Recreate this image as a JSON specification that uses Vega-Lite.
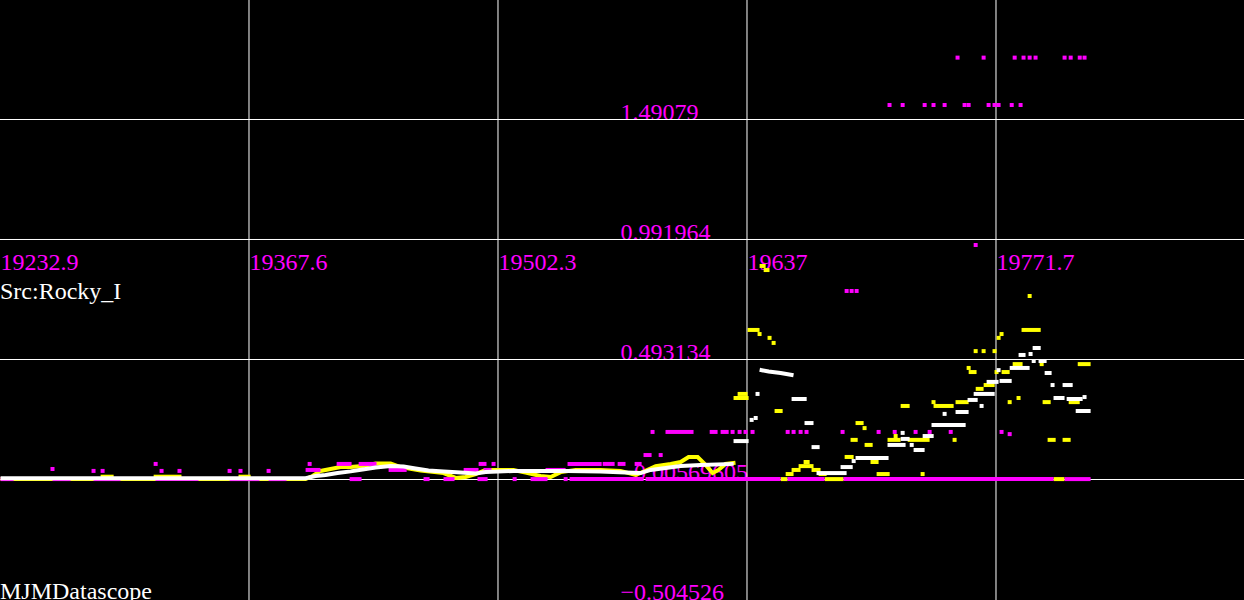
{
"$schema":"https://vega.github.io/schema/vega-lite/v6.json",
"width":1244,"height":600,"autosize":{"type":"none"},"padding":0,
"background":"#000000",
"config":{"view":{"stroke":null}},
"resolve":{"axis":{"x":"independent","y":"independent"}},
"datasets":{
"seg":[
{"s":"w","g":1,"x":19234.3,"y":0},{"s":"w","g":1,"x":19398.2,"y":0},{"s":"w","g":1,"x":19403.6,"y":0.009},{"s":"w","g":1,"x":19409.0,"y":0.013},{"s":"w","g":1,"x":19415.5,"y":0.021},{"s":"w","g":1,"x":19422.6,"y":0.028},{"s":"w","g":1,"x":19429.0,"y":0.036},{"s":"w","g":1,"x":19436.1,"y":0.044},{"s":"w","g":1,"x":19444.2,"y":0.050},{"s":"w","g":1,"x":19451.2,"y":0.048},{"s":"w","g":1,"x":19457.7,"y":0.040},{"s":"w","g":1,"x":19464.7,"y":0.032},{"s":"w","g":1,"x":19472.9,"y":0.028},{"s":"w","g":1,"x":19482.1,"y":0.023},{"s":"w","g":1,"x":19490.2,"y":0.019},{"s":"w","g":1,"x":19495.6,"y":0.025},{"s":"w","g":1,"x":19510.7,"y":0.030},{"s":"w","g":1,"x":19539.9,"y":0.030},{"s":"w","g":1,"x":19557.8,"y":0.028},{"s":"w","g":1,"x":19571.3,"y":0.023},{"s":"w","g":1,"x":19579.4,"y":0.021},{"s":"w","g":1,"x":19584.9,"y":0.034},{"s":"w","g":1,"x":19593.0,"y":0.042},{"s":"w","g":1,"x":19601.1,"y":0.050},{"s":"w","g":1,"x":19611.9,"y":0.055},{"s":"w","g":1,"x":19628.7,"y":0.059},
{"s":"w","g":2,"x":19630.8,"y":0.154},{"s":"w","g":2,"x":19636.8,"y":0.154},
{"s":"w","g":3,"x":19644.9,"y":0.449},{"s":"w","g":3,"x":19648.7,"y":0.443},{"s":"w","g":3,"x":19655.2,"y":0.437},{"s":"w","g":3,"x":19661.1,"y":0.429},
{"s":"w","g":4,"x":19662.2,"y":0.329},{"s":"w","g":4,"x":19668.2,"y":0.329},
{"s":"w","g":5,"x":19669.2,"y":0.229},{"s":"w","g":5,"x":19671.9,"y":0.229},
{"s":"w","g":6,"x":19673.0,"y":0.129},{"s":"w","g":6,"x":19675.2,"y":0.129},
{"s":"w","g":7,"x":19675.7,"y":0.021},{"s":"w","g":7,"x":19689.8,"y":0.021},
{"s":"w","g":8,"x":19688.7,"y":0.046},{"s":"w","g":8,"x":19693.1,"y":0.046},
{"s":"w","g":9,"x":19696.8,"y":0.084},{"s":"w","g":9,"x":19712.5,"y":0.084},
{"s":"w","g":10,"x":19714.1,"y":0.138},{"s":"w","g":10,"x":19721.7,"y":0.138},
{"s":"w","g":11,"x":19721.2,"y":0.163},{"s":"w","g":11,"x":19723.9,"y":0.163},
{"s":"w","g":12,"x":19728.2,"y":0.117},{"s":"w","g":12,"x":19732.0,"y":0.117},
{"s":"w","g":13,"x":19733.1,"y":0.175},{"s":"w","g":13,"x":19736.9,"y":0.175},
{"s":"w","g":14,"x":19737.9,"y":0.221},{"s":"w","g":14,"x":19754.2,"y":0.221},
{"s":"w","g":15,"x":19750.9,"y":0.275},{"s":"w","g":15,"x":19755.8,"y":0.275},
{"s":"w","g":16,"x":19757.4,"y":0.325},{"s":"w","g":16,"x":19760.7,"y":0.325},
{"s":"w","g":17,"x":19760.7,"y":0.350},{"s":"w","g":17,"x":19769.9,"y":0.350},
{"s":"w","g":18,"x":19767.7,"y":0.400},{"s":"w","g":18,"x":19772.0,"y":0.400},
{"s":"w","g":19,"x":19774.7,"y":0.404},{"s":"w","g":19,"x":19779.1,"y":0.404},
{"s":"w","g":20,"x":19780.2,"y":0.458},{"s":"w","g":20,"x":19788.8,"y":0.458},
{"s":"w","g":21,"x":19785.0,"y":0.512},{"s":"w","g":21,"x":19786.6,"y":0.512},
{"s":"w","g":22,"x":19792.6,"y":0.541},{"s":"w","g":22,"x":19794.8,"y":0.541},
{"s":"w","g":23,"x":19795.8,"y":0.487},{"s":"w","g":23,"x":19798.0,"y":0.487},
{"s":"w","g":24,"x":19799.1,"y":0.437},{"s":"w","g":24,"x":19800.7,"y":0.437},
{"s":"w","g":25,"x":19803.9,"y":0.333},{"s":"w","g":25,"x":19807.7,"y":0.333},
{"s":"w","g":26,"x":19808.8,"y":0.387},{"s":"w","g":26,"x":19812.1,"y":0.387},
{"s":"w","g":27,"x":19811.0,"y":0.329},{"s":"w","g":27,"x":19817.5,"y":0.329},
{"s":"w","g":28,"x":19815.9,"y":0.279},{"s":"w","g":28,"x":19821.8,"y":0.279},
{"s":"y","g":31,"x":19234.3,"y":-0.004},{"s":"y","g":31,"x":19398.2,"y":-0.004},{"s":"y","g":31,"x":19402.0,"y":0.009},{"s":"y","g":31,"x":19406.3,"y":0.030},{"s":"y","g":31,"x":19411.7,"y":0.038},{"s":"y","g":31,"x":19417.1,"y":0.046},{"s":"y","g":31,"x":19422.6,"y":0.046},{"s":"y","g":31,"x":19429.0,"y":0.050},{"s":"y","g":31,"x":19436.1,"y":0.061},{"s":"y","g":31,"x":19444.2,"y":0.061},{"s":"y","g":31,"x":19449.6,"y":0.046},{"s":"y","g":31,"x":19460.4,"y":0.032},{"s":"y","g":31,"x":19472.9,"y":0.021},{"s":"y","g":31,"x":19479.4,"y":0.001},{"s":"y","g":31,"x":19484.8,"y":0.005},{"s":"y","g":31,"x":19490.2,"y":0.017},{"s":"y","g":31,"x":19495.6,"y":0.034},{"s":"y","g":31,"x":19510.7,"y":0.034},{"s":"y","g":31,"x":19517.2,"y":0.023},{"s":"y","g":31,"x":19525.3,"y":0.009},{"s":"y","g":31,"x":19530.8,"y":0.005},{"s":"y","g":31,"x":19536.2,"y":0.025},{"s":"y","g":31,"x":19544.3,"y":0.034},{"s":"y","g":31,"x":19557.8,"y":0.034},{"s":"y","g":31,"x":19568.6,"y":0.030},{"s":"y","g":31,"x":19576.7,"y":0.013},{"s":"y","g":31,"x":19582.1,"y":0.030},{"s":"y","g":31,"x":19587.6,"y":0.050},{"s":"y","g":31,"x":19595.7,"y":0.059},{"s":"y","g":31,"x":19601.1,"y":0.067},{"s":"y","g":31,"x":19605.4,"y":0.088},{"s":"y","g":31,"x":19610.3,"y":0.088},{"s":"y","g":31,"x":19614.6,"y":0.055},{"s":"y","g":31,"x":19618.4,"y":0.021},{"s":"y","g":31,"x":19621.6,"y":0.034},{"s":"y","g":31,"x":19625.4,"y":0.059},{"s":"y","g":31,"x":19629.7,"y":0.063},
{"s":"y","g":32,"x":19288.4,"y":0.006},{"s":"y","g":32,"x":19293.3,"y":0.006},
{"s":"y","g":33,"x":19317.1,"y":0.006},{"s":"y","g":33,"x":19330.0,"y":0.006},
{"s":"y","g":34,"x":19363.0,"y":0.006},{"s":"y","g":34,"x":19367.4,"y":0.006},
{"s":"y","g":35,"x":19656.3,"y":-0.004},{"s":"y","g":35,"x":19657.9,"y":-0.004},
{"s":"y","g":103,"x":19659.0,"y":0.017},{"s":"y","g":103,"x":19661.1,"y":0.017},
{"s":"y","g":104,"x":19662.2,"y":0.034},{"s":"y","g":104,"x":19664.9,"y":0.034},
{"s":"y","g":105,"x":19666.0,"y":0.050},{"s":"y","g":105,"x":19671.9,"y":0.050},
{"s":"y","g":106,"x":19668.7,"y":0.067},{"s":"y","g":106,"x":19669.8,"y":0.067},
{"s":"y","g":107,"x":19673.0,"y":0.034},{"s":"y","g":107,"x":19675.7,"y":0.034},
{"s":"y","g":108,"x":19676.8,"y":0.017},{"s":"y","g":108,"x":19679.0,"y":0.017},
{"s":"y","g":109,"x":19680.1,"y":-0.004},{"s":"y","g":109,"x":19688.2,"y":-0.004},
{"s":"y","g":36,"x":19633.0,"y":0.350},{"s":"y","g":36,"x":19636.2,"y":0.350},
{"s":"y","g":37,"x":19630.8,"y":0.333},{"s":"y","g":37,"x":19636.8,"y":0.333},
{"s":"y","g":38,"x":19638.4,"y":0.616},{"s":"y","g":38,"x":19642.7,"y":0.616},
{"s":"y","g":39,"x":19644.9,"y":0.882},{"s":"y","g":39,"x":19646.0,"y":0.882},
{"s":"y","g":40,"x":19647.1,"y":0.865},{"s":"y","g":40,"x":19648.1,"y":0.865},
{"s":"y","g":41,"x":19653.0,"y":0.279},{"s":"y","g":41,"x":19655.2,"y":0.279},
{"s":"y","g":42,"x":19690.9,"y":0.088},{"s":"y","g":42,"x":19693.6,"y":0.088},
{"s":"y","g":43,"x":19696.8,"y":0.229},{"s":"y","g":43,"x":19699.0,"y":0.229},
{"s":"y","g":44,"x":19694.1,"y":0.159},{"s":"y","g":44,"x":19695.8,"y":0.159},
{"s":"y","g":45,"x":19701.7,"y":0.138},{"s":"y","g":45,"x":19703.9,"y":0.138},
{"s":"y","g":46,"x":19704.9,"y":0.067},{"s":"y","g":46,"x":19707.1,"y":0.067},
{"s":"y","g":47,"x":19708.2,"y":0.017},{"s":"y","g":47,"x":19713.1,"y":0.017},
{"s":"y","g":48,"x":19714.1,"y":0.159},{"s":"y","g":48,"x":19719.0,"y":0.159},
{"s":"y","g":49,"x":19725.0,"y":0.159},{"s":"y","g":49,"x":19734.7,"y":0.159},
{"s":"y","g":50,"x":19721.2,"y":0.300},{"s":"y","g":50,"x":19723.9,"y":0.300},
{"s":"y","g":51,"x":19739.0,"y":0.300},{"s":"y","g":51,"x":19747.7,"y":0.300},
{"s":"y","g":52,"x":19750.9,"y":0.316},{"s":"y","g":52,"x":19755.8,"y":0.316},
{"s":"y","g":53,"x":19758.0,"y":0.441},{"s":"y","g":53,"x":19760.1,"y":0.441},
{"s":"y","g":54,"x":19761.8,"y":0.371},{"s":"y","g":54,"x":19763.9,"y":0.371},
{"s":"y","g":55,"x":19766.1,"y":0.387},{"s":"y","g":55,"x":19769.9,"y":0.387},
{"s":"y","g":56,"x":19775.8,"y":0.441},{"s":"y","g":56,"x":19778.0,"y":0.441},
{"s":"y","g":57,"x":19781.8,"y":0.474},{"s":"y","g":57,"x":19785.0,"y":0.474},
{"s":"y","g":58,"x":19786.6,"y":0.616},{"s":"y","g":58,"x":19794.8,"y":0.616},
{"s":"y","g":59,"x":19798.0,"y":0.316},{"s":"y","g":59,"x":19800.2,"y":0.316},
{"s":"y","g":60,"x":19800.7,"y":0.159},{"s":"y","g":60,"x":19802.9,"y":0.159},
{"s":"y","g":61,"x":19808.8,"y":0.159},{"s":"y","g":61,"x":19811.0,"y":0.159},
{"s":"y","g":62,"x":19812.1,"y":0.316},{"s":"y","g":62,"x":19815.9,"y":0.316},
{"s":"y","g":63,"x":19817.0,"y":0.474},{"s":"y","g":63,"x":19821.8,"y":0.474},
{"s":"y","g":64,"x":19803.9,"y":-0.004},{"s":"y","g":64,"x":19807.7,"y":-0.004},
{"s":"m","g":71,"x":19234.3,"y":-0.004},{"s":"m","g":71,"x":19239.2,"y":-0.004},
{"s":"m","g":72,"x":19262.4,"y":-0.004},{"s":"m","g":72,"x":19270.0,"y":-0.004},
{"s":"m","g":73,"x":19284.6,"y":-0.004},{"s":"m","g":73,"x":19297.0,"y":-0.004},
{"s":"m","g":74,"x":19318.1,"y":-0.004},{"s":"m","g":74,"x":19339.2,"y":-0.004},
{"s":"m","g":75,"x":19358.2,"y":-0.004},{"s":"m","g":75,"x":19372.2,"y":-0.004},
{"s":"m","g":76,"x":19379.3,"y":-0.004},{"s":"m","g":76,"x":19386.8,"y":-0.004},
{"s":"m","g":77,"x":19423.1,"y":-0.004},{"s":"m","g":77,"x":19427.4,"y":-0.004},
{"s":"m","g":78,"x":19463.1,"y":-0.004},{"s":"m","g":78,"x":19464.2,"y":-0.004},
{"s":"m","g":79,"x":19473.9,"y":-0.004},{"s":"m","g":79,"x":19477.7,"y":-0.004},
{"s":"m","g":80,"x":19492.3,"y":-0.004},{"s":"m","g":80,"x":19495.6,"y":-0.004},
{"s":"m","g":81,"x":19521.0,"y":-0.004},{"s":"m","g":81,"x":19528.0,"y":-0.004},
{"s":"m","g":82,"x":19542.1,"y":-0.004},{"s":"m","g":82,"x":19580.0,"y":-0.004},
{"s":"m","g":83,"x":19583.2,"y":-0.004},{"s":"m","g":83,"x":19654.1,"y":-0.004},
{"s":"m","g":84,"x":19660.0,"y":-0.004},{"s":"m","g":84,"x":19677.9,"y":-0.004},
{"s":"m","g":85,"x":19690.3,"y":-0.004},{"s":"m","g":85,"x":19801.8,"y":-0.004},
{"s":"m","g":86,"x":19809.9,"y":-0.004},{"s":"m","g":86,"x":19821.8,"y":-0.004},
{"s":"m","g":87,"x":19416.1,"y":0.059},{"s":"m","g":87,"x":19422.0,"y":0.059},
{"s":"m","g":88,"x":19428.0,"y":0.059},{"s":"m","g":88,"x":19435.5,"y":0.059},
{"s":"m","g":89,"x":19492.9,"y":0.059},{"s":"m","g":89,"x":19495.0,"y":0.059},
{"s":"m","g":90,"x":19541.0,"y":0.059},{"s":"m","g":90,"x":19557.3,"y":0.059},
{"s":"m","g":91,"x":19560.0,"y":0.059},{"s":"m","g":91,"x":19564.3,"y":0.059},
{"s":"m","g":92,"x":19568.1,"y":0.059},{"s":"m","g":92,"x":19570.2,"y":0.059},
{"s":"m","g":93,"x":19577.3,"y":0.059},{"s":"m","g":93,"x":19578.9,"y":0.059},
{"s":"m","g":94,"x":19399.3,"y":0.034},{"s":"m","g":94,"x":19405.2,"y":0.034},
{"s":"m","g":95,"x":19444.2,"y":0.034},{"s":"m","g":95,"x":19451.8,"y":0.034},
{"s":"m","g":96,"x":19484.8,"y":0.034},{"s":"m","g":96,"x":19490.7,"y":0.034},
{"s":"m","g":97,"x":19495.6,"y":0.034},{"s":"m","g":97,"x":19497.7,"y":0.034},
{"s":"m","g":98,"x":19529.1,"y":0.034},{"s":"m","g":98,"x":19537.8,"y":0.034},
{"s":"m","g":99,"x":19582.1,"y":0.096},{"s":"m","g":99,"x":19584.3,"y":0.096},
{"s":"m","g":100,"x":19594.0,"y":0.192},{"s":"m","g":100,"x":19607.0,"y":0.192},
{"s":"m","g":101,"x":19617.9,"y":0.192},{"s":"m","g":101,"x":19620.0,"y":0.192},
{"s":"m","g":102,"x":19623.8,"y":0.192},{"s":"m","g":102,"x":19626.0,"y":0.192}
],
"pt":[
{"s":"w","x":19639.5,"y":0.242},{"s":"w","x":19641.7,"y":0.250},{"s":"w","x":19642.7,"y":0.350},{"s":"w","x":19694.7,"y":0.071},{"s":"w","x":19721.2,"y":0.188},{"s":"w","x":19726.1,"y":0.138},{"s":"w","x":19743.9,"y":0.267},{"s":"w","x":19763.9,"y":0.300},{"s":"w","x":19773.1,"y":0.449},{"s":"w","x":19790.4,"y":0.516},{"s":"w","x":19792.1,"y":0.487},{"s":"w","x":19802.3,"y":0.387},{"s":"w","x":19819.6,"y":0.337},
{"s":"y","x":19643.8,"y":0.599},{"s":"y","x":19649.2,"y":0.583},{"s":"y","x":19651.4,"y":0.562},{"s":"y","x":19700.6,"y":0.208},{"s":"y","x":19717.4,"y":0.175},{"s":"y","x":19732.0,"y":0.017},{"s":"y","x":19737.9,"y":0.316},{"s":"y","x":19749.3,"y":0.159},{"s":"y","x":19756.9,"y":0.458},{"s":"y","x":19760.7,"y":0.528},{"s":"y","x":19765.0,"y":0.528},{"s":"y","x":19770.9,"y":0.528},{"s":"y","x":19772.0,"y":0.441},{"s":"y","x":19773.1,"y":0.583},{"s":"y","x":19774.7,"y":0.599},{"s":"y","x":19779.1,"y":0.316},{"s":"y","x":19783.9,"y":0.333},{"s":"y","x":19796.4,"y":0.474},{"s":"y","x":19789.9,"y":0.757},
{"s":"m","x":19511.3,"y":-0.004},{"s":"m","x":19538.9,"y":-0.004},{"s":"m","x":19261.3,"y":0.038},{"s":"m","x":19283.5,"y":0.030},{"s":"m","x":19288.4,"y":0.030},{"s":"m","x":19317.1,"y":0.059},{"s":"m","x":19320.3,"y":0.030},{"s":"m","x":19330.0,"y":0.030},{"s":"m","x":19357.1,"y":0.030},{"s":"m","x":19363.0,"y":0.030},{"s":"m","x":19378.2,"y":0.030},{"s":"m","x":19400.4,"y":0.059},{"s":"m","x":19499.9,"y":0.059},{"s":"m","x":19590.3,"y":0.096},
{"s":"m","x":19585.9,"y":0.192},{"s":"m","x":19629.2,"y":0.192},{"s":"m","x":19633.0,"y":0.192},{"s":"m","x":19636.2,"y":0.192},{"s":"m","x":19640.0,"y":0.192},{"s":"m","x":19659.0,"y":0.192},{"s":"m","x":19662.2,"y":0.192},{"s":"m","x":19666.0,"y":0.192},{"s":"m","x":19669.2,"y":0.192},{"s":"m","x":19688.7,"y":0.192},{"s":"m","x":19708.2,"y":0.192},{"s":"m","x":19716.9,"y":0.192},{"s":"m","x":19728.2,"y":0.192},{"s":"m","x":19735.8,"y":0.192},{"s":"m","x":19747.2,"y":0.192},{"s":"m","x":19774.7,"y":0.192},{"s":"m","x":19779.1,"y":0.183},
{"s":"m","x":19690.9,"y":0.778},{"s":"m","x":19693.6,"y":0.778},{"s":"m","x":19696.3,"y":0.778},{"s":"m","x":19760.7,"y":0.969},
{"s":"m","x":19714.1,"y":1.551},{"s":"m","x":19721.2,"y":1.551},{"s":"m","x":19733.1,"y":1.551},{"s":"m","x":19737.9,"y":1.551},{"s":"m","x":19743.9,"y":1.551},{"s":"m","x":19754.7,"y":1.551},{"s":"m","x":19756.9,"y":1.551},{"s":"m","x":19767.7,"y":1.551},{"s":"m","x":19770.9,"y":1.551},{"s":"m","x":19773.1,"y":1.551},{"s":"m","x":19780.2,"y":1.551},{"s":"m","x":19785.0,"y":1.551},
{"s":"m","x":19750.9,"y":1.748},{"s":"m","x":19765.0,"y":1.748},{"s":"m","x":19781.8,"y":1.748},{"s":"m","x":19786.6,"y":1.748},{"s":"m","x":19789.9,"y":1.748},{"s":"m","x":19793.1,"y":1.748},{"s":"m","x":19808.8,"y":1.748},{"s":"m","x":19812.1,"y":1.748},{"s":"m","x":19817.0,"y":1.748},{"s":"m","x":19819.6,"y":1.748}
]
},
"layer":[
{"data":{"values":[{"x":19367.6},{"x":19502.3},{"x":19637},{"x":19771.7}]},
 "mark":{"type":"rule","color":"#ffffff","strokeWidth":1},
 "encoding":{"x":{"field":"x","type":"quantitative","scale":{"domain":[19232.9,19905.86],"nice":false,"zero":false},
  "axis":{"values":[19232.9,19367.6,19502.3,19637,19771.7],"format":".6~g","orient":"bottom","offset":-361,"domain":false,"ticks":false,"grid":false,"labelAlign":"left","labelBaseline":"alphabetic","labelPadding":30,"labelColor":"#ff00ff","labelFont":"Liberation Serif","labelFontSize":24,"labelFlush":false,"labelOverlap":false,"labelBound":false,"title":null}}}},
{"data":{"values":[{"y":1.49079},{"y":0.991964},{"y":0.493134},{"y":-0.00569605}]},
 "mark":{"type":"rule","color":"#ffffff","strokeWidth":1},
 "encoding":{"y":{"field":"y","type":"quantitative","scale":{"domain":[-0.5066,1.98754],"nice":false,"zero":false},
  "axis":{"values":[1.49079,0.991964,0.493134,-0.00569605,-0.504526],"format":".6~g","orient":"left","offset":-620,"domain":false,"ticks":false,"grid":false,"labelAlign":"left","labelBaseline":"alphabetic","labelPadding":0,"labelColor":"#ff00ff","labelFont":"Liberation Serif","labelFontSize":24,"labelFlush":false,"labelOverlap":false,"labelBound":false,"title":null}}}},
{"data":{"values":[{"t":"Src:Rocky_I","x":19232.9,"y":0.7446},{"t":"MJMDatascope","x":19232.9,"y":-0.5024}]},
 "mark":{"type":"text","align":"left","baseline":"alphabetic","font":"Liberation Serif","fontSize":24,"color":"#ffffff"},
 "encoding":{"x":{"field":"x","type":"quantitative","axis":null},"y":{"field":"y","type":"quantitative","axis":null},"text":{"field":"t"}}},
{"data":{"name":"seg"},"transform":[{"filter":"datum.s==='y'"}],
 "mark":{"type":"line","strokeWidth":4,"strokeCap":"square","color":"#ffff00"},
 "encoding":{"x":{"field":"x","type":"quantitative","axis":null},"y":{"field":"y","type":"quantitative","axis":null},"detail":{"field":"g","type":"nominal"}}},
{"data":{"name":"pt"},"transform":[{"filter":"datum.s==='y'"}],
 "mark":{"type":"square","size":16,"filled":true,"opacity":1,"color":"#ffff00"},
 "encoding":{"x":{"field":"x","type":"quantitative","axis":null},"y":{"field":"y","type":"quantitative","axis":null}}},
{"data":{"name":"seg"},"transform":[{"filter":"datum.s==='m'"}],
 "mark":{"type":"line","strokeWidth":4,"strokeCap":"square","color":"#ff00ff"},
 "encoding":{"x":{"field":"x","type":"quantitative","axis":null},"y":{"field":"y","type":"quantitative","axis":null},"detail":{"field":"g","type":"nominal"}}},
{"data":{"name":"pt"},"transform":[{"filter":"datum.s==='m'"}],
 "mark":{"type":"square","size":16,"filled":true,"opacity":1,"color":"#ff00ff"},
 "encoding":{"x":{"field":"x","type":"quantitative","axis":null},"y":{"field":"y","type":"quantitative","axis":null}}},
{"data":{"name":"seg"},"transform":[{"filter":"datum.s==='w'"}],
 "mark":{"type":"line","strokeWidth":4,"strokeCap":"square","color":"#ffffff"},
 "encoding":{"x":{"field":"x","type":"quantitative","axis":null},"y":{"field":"y","type":"quantitative","axis":null},"detail":{"field":"g","type":"nominal"}}},
{"data":{"name":"pt"},"transform":[{"filter":"datum.s==='w'"}],
 "mark":{"type":"square","size":16,"filled":true,"opacity":1,"color":"#ffffff"},
 "encoding":{"x":{"field":"x","type":"quantitative","axis":null},"y":{"field":"y","type":"quantitative","axis":null}}}
]
}
